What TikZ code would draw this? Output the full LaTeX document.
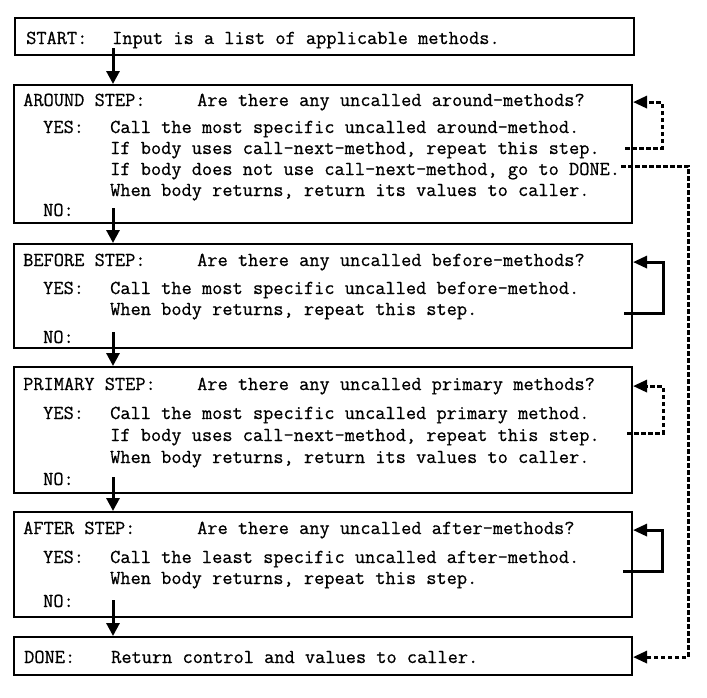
\documentclass[tikz,border=0pt]{standalone}
\usepackage{fontspec}
\usepackage{tikz}
\usetikzlibrary{positioning,calc,arrows.meta}
\newfontfamily\stepfont[FakeBold=0.6]{Latin Modern Mono}
\tikzstyle{stepbox} = [draw, rectangle, line width=2pt, inner sep=0pt, minimum width=618pt]
\tikzstyle{txt} = [anchor=base west, inner sep=0pt]
\tikzstyle{flow} = [-{Triangle[length=13pt,width=13pt]}, line width=3pt]
\tikzstyle{back} = [-{Triangle[length=14pt,width=12pt]}, line width=3pt]
\tikzstyle{dback} = [back, dash pattern=on 4.5pt off 2.5pt]

\begin{document}
\begin{tikzpicture}[x=1pt, y=-1pt, font=\stepfont\fontsize{19.8}{22}\selectfont]
	\useasboundingbox (0,0) rectangle (707,697);
	% boxes
	\node (start) [stepbox, minimum width=619pt, minimum height=37pt] at (324.5,36.5) {};
	\node (around) [stepbox, minimum height=138pt] at (323,154) {};
	\node (before) [stepbox, minimum height=104pt] at (323,296) {};
	\node (primary) [stepbox, minimum height=126pt] at (323,430) {};
	\node (after) [stepbox, minimum height=105pt] at (323,564.5) {};
	\node (done) [stepbox, minimum height=38pt] at (323,656) {};
	%
	\node (startl) [txt] at (26,44) {START:};
	\node (startt) [txt] at (112,44) {Input is a list of applicable methods.};
	%
	\node (aroundl) [txt] at (23,106) {AROUND STEP:};
	\node (aroundq) [txt] at (197,106) {Are there any uncalled around-methods?};
	\node (aroundyes) [txt] at (43,133) {YES:};
	\node (around1) [txt] at (110,133) {Call the most specific uncalled around-method.};
	\node (around2) [txt] at (110,154) {If body uses call-next-method, repeat this step.};
	\node (around3) [txt] at (110,175) {If body does not use call-next-method, go to DONE.};
	\node (around4) [txt] at (110,196) {When body returns, return its values to caller.};
	\node (aroundno) [txt] at (43,216) {NO:};
	%
	\node (beforel) [txt] at (23,266) {BEFORE STEP:};
	\node (beforeq) [txt] at (197,266) {Are there any uncalled before-methods?};
	\node (beforeyes) [txt] at (43,294) {YES:};
	\node (before1) [txt] at (110,294) {Call the most specific uncalled before-method.};
	\node (before2) [txt] at (110,315) {When body returns, repeat this step.};
	\node (beforeno) [txt] at (43,343) {NO:};
	%
	\node (primaryl) [txt] at (23,390) {PRIMARY STEP:};
	\node (primaryq) [txt] at (197,390) {Are there any uncalled primary methods?};
	\node (primaryyes) [txt] at (43,419) {YES:};
	\node (primary1) [txt] at (110,419) {Call the most specific uncalled primary method.};
	\node (primary2) [txt] at (110,441) {If body uses call-next-method, repeat this step.};
	\node (primary3) [txt] at (110,463) {When body returns, return its values to caller.};
	\node (primaryno) [txt] at (43,485) {NO:};
	%
	\node (afterl) [txt] at (23,534) {AFTER STEP:};
	\node (afterq) [txt] at (197,534) {Are there any uncalled after-methods?};
	\node (afteryes) [txt] at (43,563) {YES:};
	\node (after1) [txt] at (110,563) {Call the least specific uncalled after-method.};
	\node (after2) [txt] at (110,584) {When body returns, repeat this step.};
	\node (afterno) [txt] at (43,607) {NO:};
	%
	\node (donel) [txt] at (24,663) {DONE:};
	\node (donet) [txt] at (111,663) {Return control and values to caller.};
	%
	\coordinate (s0) at (113,48);
	\coordinate (s1) at (113,208);
	\coordinate (s2) at (113,332);
	\coordinate (s3) at (113,477);
	\coordinate (s4) at (113,600);
	\draw [flow] (s0) -- (s0 |- around.north);
	\draw [flow] (s1) -- (s1 |- before.north);
	\draw [flow] (s2) -- (s2 |- primary.north);
	\draw [flow] (s3) -- (s3 |- after.north);
	\draw [flow] (s4) -- (s4 |- done.north);
	%
	\coordinate (aroundrep) at (625,148);
	\coordinate (arounddone) at (621,166);
	\coordinate (beforerep) at (624,313);
	\coordinate (primaryrep) at (627,433);
	\coordinate (afterrep) at (623,571);
	\draw [dback] (aroundrep) -- ++(37,0) |- (around.east |- aroundq);
	\draw [dback] (arounddone) -- ++(67,0) |- (done.east |- donet);
	\draw [back] (beforerep) -- ++(39,0) |- (before.east |- beforeq);
	\draw [dback] (primaryrep) -- ++(36,0) |- (primary.east |- primaryq);
	\draw [back] (afterrep) -- ++(39,0) |- (after.east |- afterq);
\end{tikzpicture}
\end{document}
